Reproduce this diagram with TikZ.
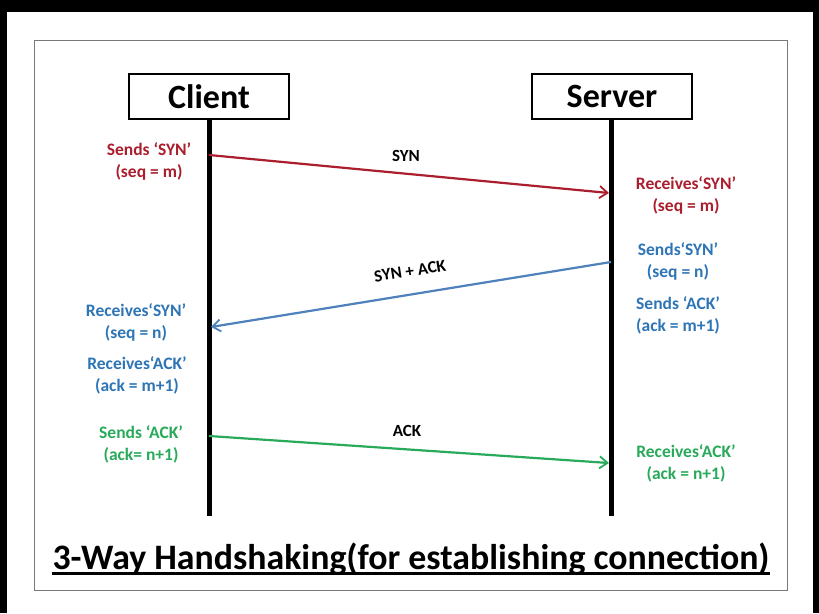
\documentclass[tikz,border=0pt]{standalone}
\usepackage{fontspec}
\setmainfont{Carlito}
\usetikzlibrary{arrows.meta}
\definecolor{synred}{RGB}{170,30,45}
\definecolor{ackblue}{RGB}{46,117,182}
\definecolor{lineblue}{RGB}{79,129,189}
\definecolor{ackgreen}{RGB}{40,170,90}
\definecolor{framegray}{RGB}{120,120,120}
\tikzset{
  hostbox/.style={draw=black, line width=2.5pt, minimum width=160pt, minimum height=45pt, inner sep=0pt, font=\fontsize{34}{40}\selectfont\bfseries},
  lifeline/.style={line width=5pt, black},
  lbl/.style={align=center, inner sep=0pt, font=\fontsize{17.5}{22}\selectfont\bfseries},
  msg/.style={line width=2.2pt, -{Straight Barb[length=8pt,width=12pt,line width=1.8pt]}},
  msglbl/.style={inner sep=0pt, font=\fontsize{17}{20}\selectfont\bfseries}
}
\begin{document}
\begin{tikzpicture}[x=1pt,y=-1pt]
\useasboundingbox (0,0) rectangle (819,613);
\fill[white] (0,0) rectangle (819,613);
\fill[black] (0,0) rectangle (819,12);
\fill[black] (0,0) rectangle (7,613);
\fill[black] (813,0) rectangle (819,613);
\draw[framegray, line width=1pt] (34,40) rectangle (787,590);

\node[hostbox] (client) at (209,96.5) {Client};
\node[hostbox] (server) at (612,96.5) {Server};
\coordinate (cend) at (209,516);
\coordinate (send) at (611,516);
\draw[lifeline] (client.south) -- (cend);
\draw[lifeline] (server.south -| send) -- (send);

% message points
\coordinate (c1) at (209,155);
\coordinate (s1) at (609,193);
\coordinate (s2) at (611,262);
\coordinate (c2) at (211,327);
\coordinate (c3) at (209,436);
\coordinate (s3) at (609,463);

\draw[msg, synred] (c1) -- (s1);
\draw[msg, lineblue] (s2) -- (c2);
\draw[msg, ackgreen] (c3) -- (s3);

\node[msglbl] (l1) at (406,156) {SYN};
\node[msglbl, rotate=9] (l2) at (410,271) {SYN + ACK};
\node[msglbl] (l3) at (407,431) {ACK};

\node[lbl, text=synred] (t1) at (149,161) {Sends ‘SYN’\\(seq = m)};
\node[lbl, text=synred] (t2) at (686,195) {Receives‘SYN’\\(seq = m)};
\node[lbl, text=ackblue] (t3) at (678,261) {Sends‘SYN’\\(seq = n)};
\node[lbl, text=ackblue] (t4) at (678,315) {Sends ‘ACK’\\(ack = m+1)};
\node[lbl, text=ackblue] (t5) at (136,322) {Receives‘SYN’\\(seq = n)};
\node[lbl, text=ackblue] (t6) at (137,375) {Receives‘ACK’\\(ack = m+1)};
\node[lbl, text=ackgreen] (t7) at (141,444) {Sends ‘ACK’\\(ack= n+1)};
\node[lbl, text=ackgreen] (t8) at (686,463) {Receives‘ACK’\\(ack = n+1)};

\node[inner sep=0pt, anchor=base, font=\fontsize{35.8}{42}\selectfont\bfseries] (title) at (411,569) {3-Way Handshaking(for establishing connection)};
\draw[line width=2.8pt] ([yshift=-4.5pt]title.base west) -- ([yshift=-4.5pt]title.base east);
\end{tikzpicture}
\end{document}
